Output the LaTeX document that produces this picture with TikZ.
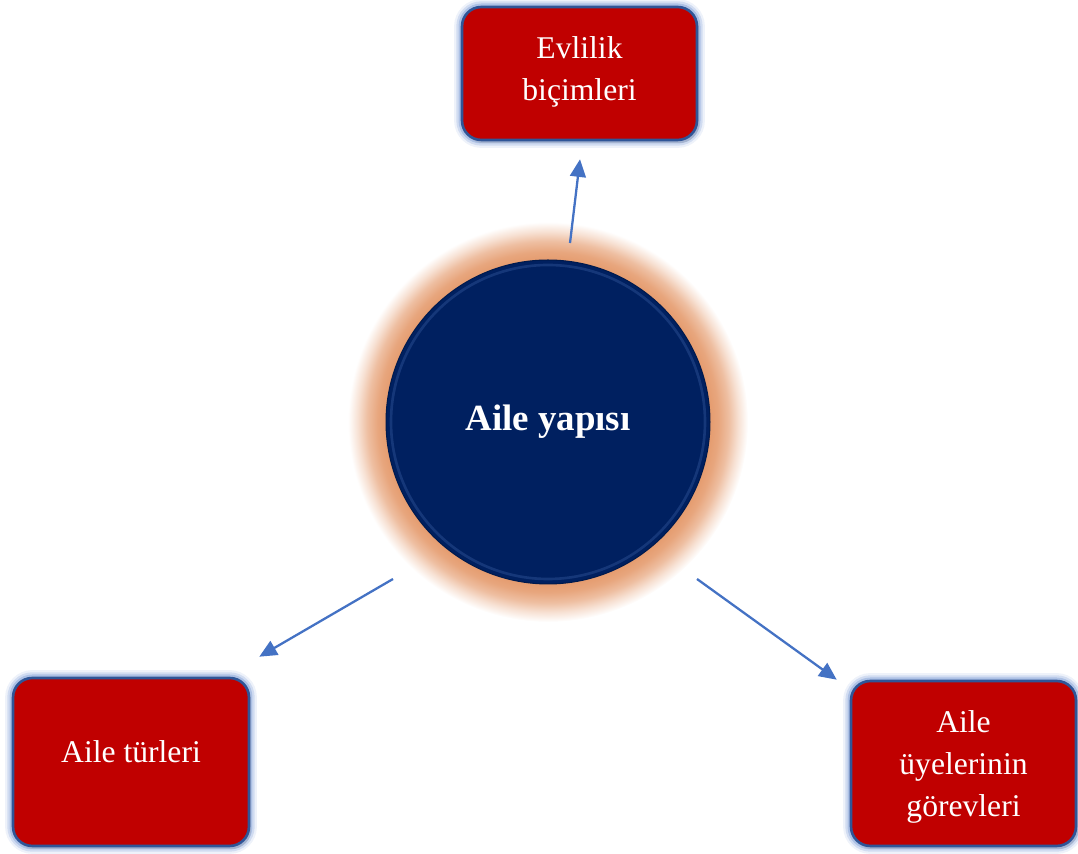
\documentclass[tikz,border=0pt]{standalone}
\usepackage{fontspec}
\setmainfont{Liberation Serif}
\usepackage{xcolor}
\usepackage{tikz}
\usetikzlibrary{arrows.meta}
\usetikzlibrary{shadows}
\definecolor{boxred}{HTML}{C00000}
\definecolor{boxedge}{HTML}{2F5597}
\definecolor{boxglow}{HTML}{8FAADC}
\definecolor{navy}{HTML}{002060}
\definecolor{navyrim}{HTML}{3F62A8}
\definecolor{peach}{HTML}{E59C6F}
\definecolor{linkblue}{HTML}{4472C4}
\pgfdeclareradialshading{peachglow}{\pgfpoint{0bp}{0bp}}{%
    color(0bp)=(peach); color(20.25bp)=(peach); color(21.3bp)=(peach!90!white);
    color(22.6bp)=(peach!65!white); color(23.8bp)=(peach!30!white); color(25bp)=(white); color(50bp)=(white)}
\tikzset{
    redbox/.style = {rectangle, rounded corners=11pt, fill=boxred, draw=boxedge, line width=1.5pt,
        preaction={draw=boxglow, line width=9pt, opacity=0.15},
        preaction={draw=boxglow, line width=6.5pt, opacity=0.3},
        preaction={draw=boxglow, line width=4pt, opacity=0.55},
        drop shadow={shadow xshift=1.2pt, shadow yshift=-1.8pt, opacity=0.2}},
    boxtext/.style = {align=center, inner sep=0pt, text=white, font=\fontsize{18}{24}\selectfont},
    hub/.style = {circle, fill=navy, draw=navy!80!black, line width=0.6pt, minimum size=6.48cm, inner sep=0pt,
        text=white, font=\fontsize{21}{25}\selectfont\bfseries},
    link/.style = {draw=linkblue, line width=1.3pt, -{Triangle[length=10pt, width=9pt]}}
}
\begin{document}
\begin{tikzpicture}[x=0.02cm, y=0.02cm]
    \useasboundingbox (0,0) rectangle (1078,854);
    % glow behind the hub
    \coordinate (hubc) at (548,432);
    \shade[shading=peachglow] (hubc) circle (200);
    \node [hub] (yapi) at (hubc) {Aile yapısı};
    \draw [navyrim, line width=1.5pt, opacity=0.35] (yapi.center) circle (157);

    \node [redbox, minimum width=4.7cm, minimum height=2.66cm] (bicim) at (579.5,780.5) {};
    \node [redbox, minimum width=4.72cm, minimum height=3.36cm] (turler) at (131,92) {};
    \node [redbox, minimum width=4.5cm, minimum height=3.3cm] (gorev) at (963.5,90.5) {};

    \node [boxtext] (bicimtxt) at ([yshift=1]bicim.center) {Evlilik\\biçimleri};
    \node [boxtext] (turlertxt) at ([yshift=6]turler.center) {Aile türleri};
    \node [boxtext] (gorevtxt) at ([yshift=-2]gorev.center) {Aile\\üyelerinin\\görevleri};

    \draw [link] ([shift={(22,179)}]yapi.center) -- ([shift={(0.5,-18)}]bicim.south);
    \draw [link] ([shift={(-155,-157)}]yapi.center) -- ([shift={(9,20)}]turler.north east);
    \draw [link] ([shift={(149,-157)}]yapi.center) -- ([shift={(-13,0)}]gorev.north west);
\end{tikzpicture}
\end{document}
